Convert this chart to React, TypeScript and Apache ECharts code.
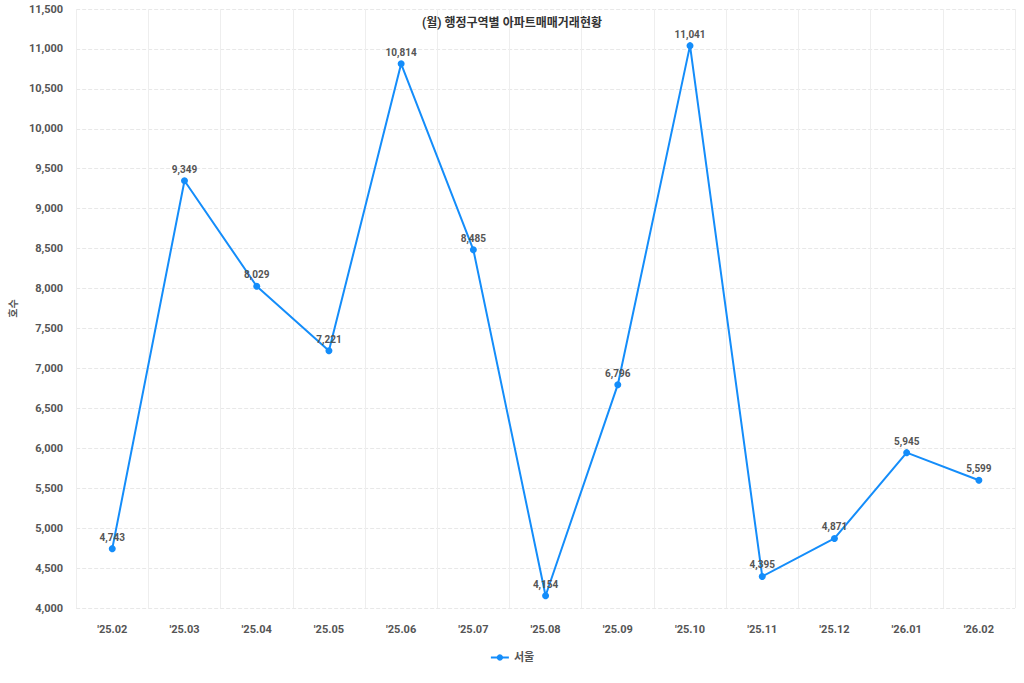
import { useEffect, useRef } from 'react';
import * as echarts from 'echarts';

const months = ["'25.02", "'25.03", "'25.04", "'25.05", "'25.06", "'25.07", "'25.08", "'25.09", "'25.10", "'25.11", "'25.12", "'26.01", "'26.02"];
const seoul = [4743, 9349, 8029, 7221, 10814, 8485, 4154, 6796, 11041, 4395, 4871, 5945, 5599];

const FONT = 'Roboto, "Noto Sans CJK KR", sans-serif';

export default function App() {
  const ref = useRef<HTMLDivElement | null>(null);

  useEffect(() => {
    if (!ref.current) {
      return;
    }
    const chart = echarts.init(ref.current, null, { renderer: 'svg' });
    chart.setOption({
      animation: false,
      textStyle: { fontFamily: FONT },
      title: {
        text: '(월) 행정구역별 아파트매매거래현황',
        left: 'center',
        top: 12,
        textStyle: { fontSize: 12, fontWeight: 'bold', color: '#333', fontFamily: FONT }
      },
      legend: {
        bottom: 15,
        left: 'center',
        itemWidth: 18,
        itemHeight: 8,
        textStyle: { fontSize: 11, fontWeight: 'bold', color: '#555' },
        data: ['서울']
      },
      grid: { left: 75, right: 9, top: 9, bottom: 75 },
      xAxis: {
        type: 'category',
        data: months,
        boundaryGap: true,
        axisLine: { show: false },
        axisTick: { show: false },
        axisLabel: { fontSize: 11, fontWeight: 'bold', color: '#555', margin: 16 },
        splitLine: { show: true, lineStyle: { color: '#eeeeee', type: 'solid' } }
      },
      yAxis: {
        type: 'value',
        min: 4000,
        max: 11500,
        interval: 500,
        name: '호수',
        nameLocation: 'middle',
        nameGap: 55,
        nameRotate: 90,
        nameTextStyle: { fontSize: 10, fontWeight: 'bold', color: '#555' },
        axisLine: { show: false },
        axisTick: { show: false },
        axisLabel: {
          fontSize: 11,
          fontWeight: 'bold',
          color: '#555',
          margin: 13,
          formatter: (v: number) => v.toLocaleString('en-US')
        },
        splitLine: { lineStyle: { color: '#e8e8e8', type: 'dashed' } }
      },
      series: [
        {
          name: '서울',
          type: 'line',
          data: seoul,
          symbol: 'circle',
          symbolSize: 7,
          itemStyle: { color: '#148dfa' },
          lineStyle: { color: '#148dfa', width: 2 },
          label: {
            show: true,
            position: 'top',
            distance: 3,
            fontSize: 10,
            fontWeight: 'bold',
            color: '#555',
            formatter: (p: { value: number }) => p.value.toLocaleString('en-US')
          }
        }
      ]
    });
    return () => {
      chart.dispose();
    };
  }, []);

  return (
    <div
      ref={ref}
      style={{ position: 'fixed', left: 0, top: 0, width: 1024, height: 683, background: '#fff' }}
    />
  );
}
